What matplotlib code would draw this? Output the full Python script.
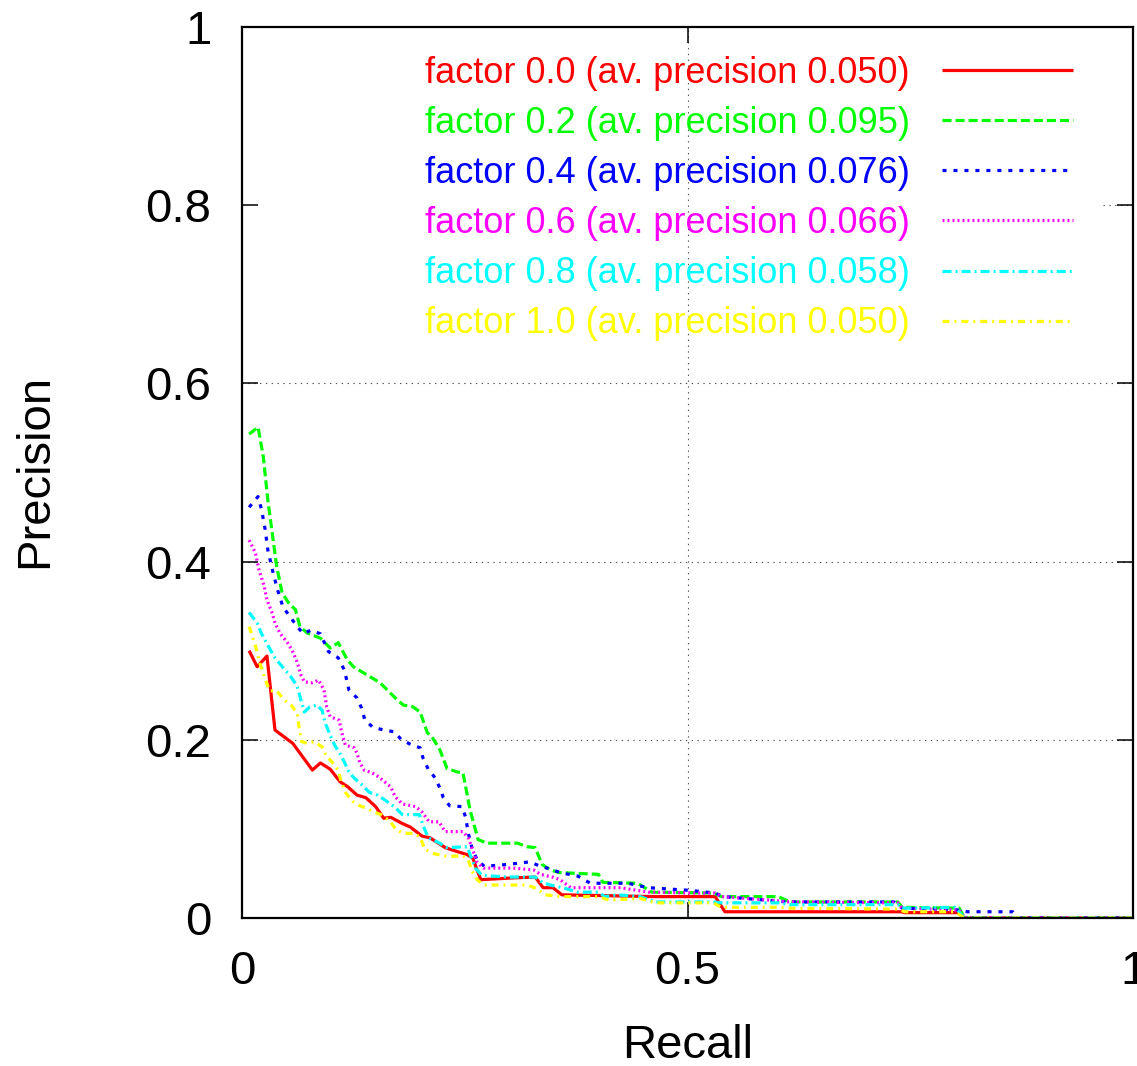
import matplotlib
matplotlib.use("Agg")
import matplotlib.pyplot as plt

plt.rcParams['font.family'] = ['Liberation Sans', 'DejaVu Sans']
plt.rcParams['lines.scale_dashes'] = False

# ---- data ----
labels = ["factor 0.0 (av. precision 0.050)",
          "factor 0.2 (av. precision 0.095)",
          "factor 0.4 (av. precision 0.076)",
          "factor 0.6 (av. precision 0.066)",
          "factor 0.8 (av. precision 0.058)",
          "factor 1.0 (av. precision 0.050)"]

recall_f00 = [0.008,0.017,0.028,0.037,0.057,0.079,0.088,0.099,0.110,0.119,0.129,0.139,0.150,0.159,0.167,0.180,0.189,0.202,0.211,0.228,0.237,0.253,0.259,0.268,0.304,0.329,0.338,0.349,0.359,0.464,0.531,0.542,0.740,0.744,0.803,0.811,1.0]
prec_f00 = [0.300,0.282,0.294,0.211,0.196,0.166,0.174,0.167,0.153,0.147,0.138,0.135,0.125,0.112,0.113,0.106,0.102,0.092,0.090,0.079,0.076,0.071,0.067,0.043,0.045,0.046,0.034,0.034,0.026,0.024,0.024,0.007,0.007,0.006,0.006,0.0,0.0]

recall_f02 = [0.008,0.018,0.024,0.029,0.035,0.039,0.045,0.052,0.060,0.065,0.073,0.088,0.099,0.108,0.118,0.125,0.140,0.155,0.174,0.181,0.192,0.200,0.208,0.214,0.222,0.230,0.241,0.248,0.256,0.265,0.275,0.309,0.320,0.329,0.337,0.346,0.356,0.400,0.405,0.444,0.460,0.529,0.538,0.602,0.615,0.736,0.741,0.805,0.811,1.0]
prec_f02 = [0.543,0.551,0.517,0.469,0.424,0.394,0.365,0.354,0.346,0.327,0.320,0.314,0.303,0.309,0.290,0.282,0.273,0.264,0.245,0.239,0.237,0.231,0.208,0.202,0.189,0.168,0.164,0.163,0.121,0.088,0.084,0.084,0.080,0.079,0.060,0.054,0.051,0.049,0.040,0.039,0.029,0.028,0.024,0.024,0.018,0.018,0.012,0.011,0.0,0.0]

recall_f04 = [0.008,0.018,0.022,0.026,0.029,0.035,0.040,0.046,0.054,0.062,0.069,0.077,0.088,0.097,0.108,0.115,0.120,0.129,0.134,0.138,0.147,0.159,0.171,0.179,0.189,0.200,0.203,0.209,0.217,0.222,0.226,0.233,0.247,0.251,0.254,0.258,0.264,0.272,0.297,0.323,0.335,0.346,0.357,0.377,0.391,0.433,0.456,0.503,0.531,0.540,0.576,0.611,0.732,0.741,0.805,0.814,0.865,0.871,1.0]
prec_f04 = [0.461,0.473,0.458,0.436,0.413,0.387,0.368,0.349,0.338,0.327,0.319,0.323,0.319,0.299,0.292,0.278,0.256,0.247,0.236,0.222,0.214,0.211,0.209,0.200,0.195,0.191,0.180,0.167,0.157,0.146,0.135,0.126,0.125,0.113,0.095,0.079,0.065,0.058,0.060,0.063,0.058,0.055,0.051,0.047,0.039,0.039,0.034,0.031,0.028,0.024,0.021,0.018,0.018,0.011,0.009,0.007,0.007,0.0,0.0]

recall_f06 = [0.008,0.015,0.019,0.025,0.028,0.034,0.037,0.043,0.051,0.056,0.062,0.066,0.070,0.079,0.086,0.092,0.095,0.099,0.109,0.112,0.116,0.126,0.129,0.132,0.137,0.146,0.154,0.161,0.167,0.172,0.180,0.195,0.202,0.210,0.221,0.228,0.248,0.254,0.258,0.264,0.271,0.304,0.327,0.335,0.348,0.357,0.369,0.425,0.456,0.512,0.531,0.538,0.594,0.615,0.736,0.741,0.805,0.811,1.0]
prec_f06 = [0.424,0.410,0.391,0.372,0.357,0.342,0.331,0.319,0.309,0.301,0.287,0.273,0.265,0.264,0.267,0.256,0.237,0.226,0.222,0.208,0.194,0.191,0.185,0.175,0.166,0.163,0.158,0.152,0.147,0.136,0.128,0.125,0.119,0.108,0.108,0.097,0.097,0.090,0.079,0.062,0.056,0.056,0.054,0.049,0.046,0.043,0.034,0.034,0.029,0.028,0.028,0.024,0.020,0.018,0.017,0.011,0.009,0.0,0.0]

recall_f08 = [0.008,0.017,0.022,0.029,0.037,0.046,0.054,0.062,0.066,0.070,0.076,0.084,0.090,0.093,0.099,0.104,0.112,0.120,0.126,0.135,0.143,0.152,0.161,0.172,0.180,0.199,0.204,0.209,0.220,0.230,0.253,0.256,0.262,0.269,0.297,0.329,0.337,0.346,0.360,0.377,0.400,0.407,0.421,0.447,0.464,0.529,0.538,0.602,0.615,0.736,0.741,0.800,0.811,1.0]
prec_f08 = [0.343,0.331,0.319,0.306,0.292,0.281,0.272,0.260,0.245,0.231,0.237,0.239,0.233,0.220,0.205,0.194,0.181,0.164,0.157,0.149,0.141,0.138,0.132,0.124,0.116,0.116,0.102,0.090,0.085,0.079,0.080,0.071,0.056,0.048,0.046,0.046,0.040,0.037,0.034,0.029,0.029,0.024,0.026,0.024,0.018,0.018,0.017,0.017,0.015,0.015,0.011,0.012,0.0,0.0]

recall_f10 = [0.008,0.015,0.020,0.026,0.031,0.039,0.047,0.055,0.062,0.064,0.067,0.073,0.081,0.090,0.094,0.101,0.108,0.111,0.116,0.124,0.132,0.138,0.148,0.156,0.166,0.173,0.181,0.192,0.200,0.205,0.216,0.231,0.248,0.254,0.258,0.264,0.271,0.320,0.331,0.340,0.360,0.400,0.412,0.447,0.464,0.529,0.538,0.602,0.615,0.736,0.744,0.800,0.811,1.0]
prec_f10 = [0.327,0.306,0.286,0.268,0.255,0.255,0.245,0.239,0.230,0.214,0.198,0.196,0.198,0.192,0.183,0.175,0.166,0.154,0.141,0.131,0.126,0.124,0.119,0.116,0.109,0.099,0.095,0.095,0.091,0.077,0.072,0.069,0.070,0.065,0.053,0.043,0.037,0.037,0.033,0.026,0.024,0.024,0.020,0.022,0.017,0.017,0.012,0.012,0.011,0.010,0.007,0.007,0.0,0.0]

recalls = [recall_f00, recall_f02, recall_f04, recall_f06, recall_f08, recall_f10]
precisions = [prec_f00, prec_f02, prec_f04, prec_f06, prec_f08, prec_f10]

x_ticks = [0, 0.5, 1]
x_ticklabels = ["0", "0.5", "1"]
y_ticks = [0, 0.2, 0.4, 0.6, 0.8, 1]
y_ticklabels = ["0", "0.2", "0.4", "0.6", "0.8", "1"]

# ---- styles ----
colors = ['#ff0000', '#00ff00', '#0000ff', '#ff00ff', '#00ffff', '#ffff00']
styles = ['-',
          (0, (6.5, 2.9)),
          (0, (2.9, 5.0)),
          (0, (1.4, 2.2)),
          (0, (6.5, 2.9, 1.4, 2.9)),
          (0, (5.0, 3.6, 1.4, 3.6))]

W, H = 1137, 1066
fig = plt.figure(figsize=(W / 100, H / 100), dpi=100)
ax = fig.add_axes([242 / W, (H - 918) / H, (1133 - 242) / W, (918 - 27) / H])
ax.set_xlim(0, 1)
ax.set_ylim(0, 1)

grid_kw = dict(color='#555555', lw=0.8, linestyle=(0, (1.0, 3.2)), zorder=0.5)
for yv in [0.2, 0.4, 0.6]:
    ax.axhline(yv, **grid_kw)
ax.hlines(0.8, 0.966, 1.0, **grid_kw)
ax.axvline(0.5, **grid_kw)

for rx, py, c, ls, lab in zip(recalls, precisions, colors, styles, labels):
    ax.plot(rx, py, color=c, linestyle=ls, lw=2.3, label=lab,
            solid_capstyle='butt', dash_capstyle='butt')

leg = ax.legend(loc='upper right', bbox_to_anchor=(0.933, 0.968),
                frameon=False, markerfirst=False, labelcolor='linecolor',
                fontsize=26, handlelength=3.63, handletextpad=0.89,
                labelspacing=0.42, borderpad=0, borderaxespad=0)

ax.set_xticks(x_ticks)
ax.set_xticklabels(x_ticklabels)
ax.set_yticks(y_ticks)
ax.set_yticklabels(y_ticklabels)
ax.tick_params(axis='both', direction='in', length=11.5, width=1.1,
               labelsize=34, top=True, right=True)
ax.tick_params(axis='x', pad=23)
ax.tick_params(axis='y', pad=22)
for sp in ax.spines.values():
    sp.set_linewidth(1.6)

ax.set_xlabel("Recall", fontsize=34)
ax.set_ylabel("Precision", fontsize=34)
ax.xaxis.set_label_coords((688 - 242) / 891, -0.119)
ax.yaxis.set_label_coords(-0.207, 0.502)

fig.savefig("out.png", dpi=100)
